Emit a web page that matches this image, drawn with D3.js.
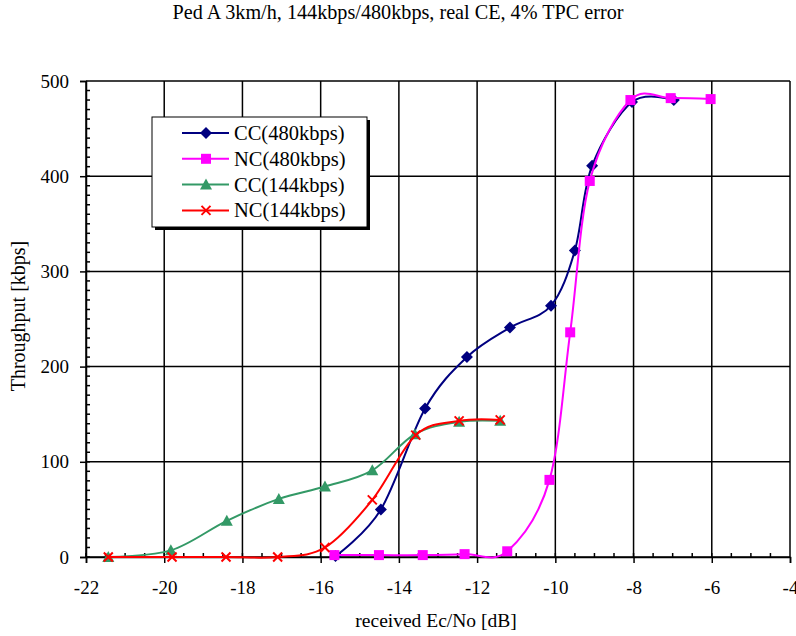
<!DOCTYPE html>
<html>
<head>
<meta charset="utf-8">
<script src="https://cdn.jsdelivr.net/npm/d3@7"></script>
<style>
  body { margin: 0; background: #fff; }
  svg text { font-family: "Liberation Serif", "Times New Roman", Tinos, "DejaVu Serif", serif; fill: #000; }
</style>
</head>
<body>
<script>
// data
var cc480X = [-15.62, -14.46, -13.33, -12.26, -11.16, -10.11, -9.5, -9.06, -8.04, -6.97];
var cc480Y = [1, 50, 156, 210, 241, 264, 322, 411, 478, 480];
var nc480X = [-15.65, -14.51, -13.39, -12.32, -11.23, -10.15, -9.62, -9.12, -8.08, -7.05, -6.03];
var nc480Y = [2, 2, 2, 3, 6, 81, 236, 395, 480, 482, 481];
var cc144X = [-21.43, -19.83, -18.4, -17.07, -15.89, -14.68, -13.59, -12.46, -11.41];
var cc144Y = [0, 7, 38, 61, 74, 91, 129, 142, 143];
var nc144X = [-21.43, -19.8, -18.42, -17.1, -15.89, -14.68, -13.57, -12.46, -11.41];
var nc144Y = [0, 0, 0, 0, 10, 60, 128, 143, 144];
var seriesNames = ["CC(480kbps)", "NC(480kbps)", "CC(144kbps)", "NC(144kbps)"];
var xTicks = [-22, -20, -18, -16, -14, -12, -10, -8, -6, -4];
var yTicks = [0, 100, 200, 300, 400, 500];

var W = 796, H = 636;
var m = { left: 86, right: 6, top: 81, bottom: 79 };
var FONT = "'Liberation Serif', 'Times New Roman', Tinos, 'DejaVu Serif', serif";

var svg = d3.select("body").append("svg")
  .attr("width", W)
  .attr("height", H);

var x = d3.scaleLinear().domain([-22, -4]).range([m.left, W - m.right]);
var y = d3.scaleLinear().domain([0, 500]).range([H - m.bottom, m.top]);

// title
svg.append("text")
  .attr("x", 398).attr("y", 19)
  .attr("text-anchor", "middle")
  .style("font-family", FONT)
  .style("font-size", "20.2px")
  .text("Ped A 3km/h, 144kbps/480kbps, real CE, 4% TPC error");

// grid
var grid = svg.append("g").attr("class", "grid");
grid.selectAll(".gx")
  .data(xTicks)
  .enter().append("line")
    .attr("x1", function(d) { return x(d); })
    .attr("x2", function(d) { return x(d); })
    .attr("y1", y(0)).attr("y2", y(500))
    .style("stroke", "#000").style("stroke-width", 1.5);
grid.selectAll(".gy")
  .data(yTicks)
  .enter().append("line")
    .attr("x1", x(-22)).attr("x2", x(-4))
    .attr("y1", function(d) { return y(d); })
    .attr("y2", function(d) { return y(d); })
    .style("stroke", "#000").style("stroke-width", 1.5);

// minor ticks (inside)
grid.selectAll(".mx")
  .data(d3.range(-22, -4, 0.5))
  .enter().append("line")
    .attr("x1", function(d) { return x(d); })
    .attr("x2", function(d) { return x(d); })
    .attr("y1", y(0)).attr("y2", y(0) - 4)
    .style("stroke", "#000").style("stroke-width", 1.5);
grid.selectAll(".my")
  .data(d3.range(0, 500, 10))
  .enter().append("line")
    .attr("x1", x(-22)).attr("x2", x(-22) + 4)
    .attr("y1", function(d) { return y(d); })
    .attr("y2", function(d) { return y(d); })
    .style("stroke", "#000").style("stroke-width", 1.5);

// axes
var xAxis = svg.append("g")
  .attr("transform", "translate(0," + y(0) + ")")
  .call(d3.axisBottom(x).tickValues(xTicks).tickSize(6).tickPadding(18)
    .tickFormat(function(d) { return String(d); }));
var yAxis = svg.append("g")
  .attr("transform", "translate(" + x(-22) + ",0)")
  .call(d3.axisLeft(y).tickValues(yTicks).tickSize(6).tickPadding(11));
[xAxis, yAxis].forEach(function(a) {
  a.attr("font-family", null).attr("font-size", null);
  a.select(".domain").style("stroke", "#000").style("stroke-width", 1.5);
  a.selectAll(".tick line").style("stroke", "#000").style("stroke-width", 1.5);
  a.selectAll(".tick text")
    .style("font-family", FONT)
    .style("font-size", "19px")
    .style("fill", "#000");
});

svg.append("text")
  .attr("x", 436).attr("y", 627)
  .attr("text-anchor", "middle")
  .style("font-family", FONT)
  .style("font-size", "19.5px")
  .text("received Ec/No [dB]");
svg.append("text")
  .attr("transform", "translate(25,316) rotate(-90)")
  .attr("text-anchor", "middle")
  .style("font-family", FONT)
  .style("font-size", "20px")
  .text("Throughput [kbps]");

// series
var series = [
  { xs: cc480X, ys: cc480Y, color: "#000080", marker: "diamond" },
  { xs: nc480X, ys: nc480Y, color: "#ff00ff", marker: "square" },
  { xs: cc144X, ys: cc144Y, color: "#339966", marker: "triangle" },
  { xs: nc144X, ys: nc144Y, color: "#ff0000", marker: "cross" }
];

var line = d3.line()
  .x(function(d) { return x(d[0]); })
  .y(function(d) { return y(d[1]); })
  .curve(d3.curveCardinal.tension(0));

function drawMarker(g, type, color) {
  if (type === "diamond") {
    g.append("path").attr("d", "M0,-6L6,0L0,6L-6,0Z").style("fill", color);
  } else if (type === "square") {
    g.append("rect").attr("x", -5).attr("y", -5).attr("width", 10).attr("height", 10).style("fill", color);
  } else if (type === "triangle") {
    g.append("path").attr("d", "M0,-6L6,5L-6,5Z").style("fill", color);
  } else {
    g.append("path").attr("d", "M-4.5,-4.5L4.5,4.5M-4.5,4.5L4.5,-4.5")
      .style("stroke", color).style("stroke-width", 2).style("fill", "none");
  }
}

series.forEach(function(s) {
  var pts = s.xs.map(function(v, i) { return [v, s.ys[i]]; });
  var g = svg.append("g");
  g.append("path")
    .datum(pts)
    .attr("d", line)
    .style("fill", "none")
    .style("stroke", s.color)
    .style("stroke-width", 2);
  g.selectAll(".pt")
    .data(pts)
    .enter().append("g")
      .attr("transform", function(d) { return "translate(" + x(d[0]) + "," + y(d[1]) + ")"; })
      .each(function() { drawMarker(d3.select(this), s.marker, s.color); });
});

// legend
var lg = svg.append("g").attr("transform", "translate(152,117)");
lg.append("rect").attr("x", 3).attr("y", 3).attr("width", 215).attr("height", 110).style("fill", "#000");
lg.append("rect").attr("width", 215).attr("height", 110)
  .style("fill", "#fff").style("stroke", "#000").style("stroke-width", 1);
series.forEach(function(s, i) {
  var ry = 16 + i * 25.8;
  lg.append("line")
    .attr("x1", 30).attr("x2", 77).attr("y1", ry).attr("y2", ry)
    .style("stroke", s.color).style("stroke-width", 2);
  drawMarker(lg.append("g").attr("transform", "translate(54," + ry + ")"), s.marker, s.color);
  lg.append("text")
    .attr("x", 82).attr("y", ry + 7)
    .style("font-family", FONT)
    .style("font-size", "20.5px")
    .text(seriesNames[i]);
});
</script>
</body>
</html>
